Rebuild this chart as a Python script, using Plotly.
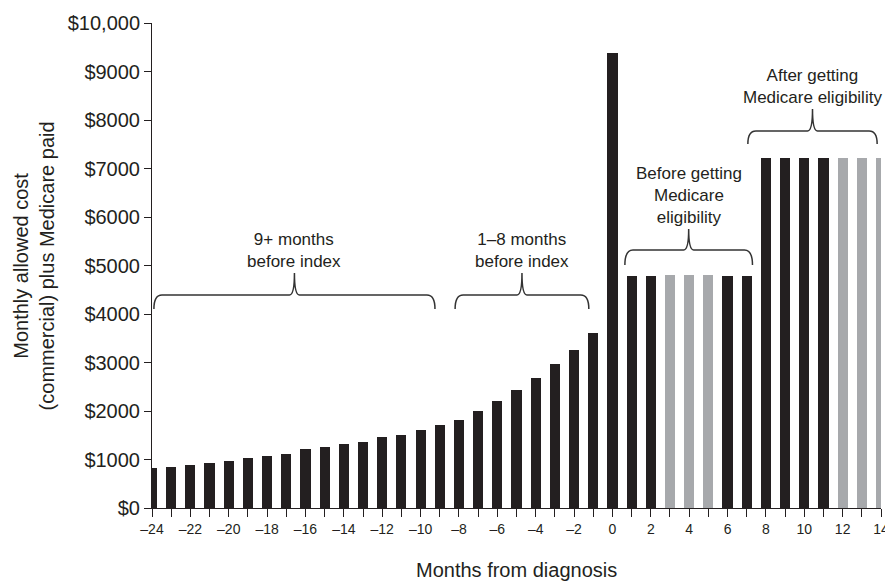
import plotly.graph_objects as go

# ---- data ----
months = list(range(-24, 15))
costs = [830, 850, 890, 930, 970, 1030, 1070, 1110, 1220, 1260, 1320, 1360,
         1460, 1510, 1610, 1710,
         1810, 2000, 2200, 2430, 2680, 2970, 3260, 3610,
         9390,
         4780, 4780, 4800, 4800, 4800, 4780, 4780,
         7210, 7210, 7210, 7210, 7210, 7210, 7210]
gray_months = [3, 4, 5, 12, 13, 14]
y_tick_values = list(range(0, 10001, 1000))
y_tick_labels = ["$0", "$1000", "$2000", "$3000", "$4000", "$5000", "$6000",
                 "$7000", "$8000", "$9000", "$10,000"]
x_tick_values = months
x_tick_labels = [("–%d" % abs(m) if m < 0 else str(m)) if m % 2 == 0 else "" for m in months]

group_labels = ["9+ months<br>before index", "1–8 months<br>before index",
                "Before getting<br>Medicare<br>eligibility",
                "After getting<br>Medicare eligibility"]
group_starts = [-23.9, -8.2, 0.65, 7.06]
group_ends = [-9.25, -1.23, 7.3, 13.8]
# brace levels (bottom of hook, horizontal, tip)
brace_bottom = [4104, 4104, 5010, 7506]
brace_mid = [4392, 4392, 5320, 7774]
brace_tip = [4845, 4845, 5752, 8227]

DARK = "#231f20"
GRAY = "#a7a9ac"
FONT = "Liberation Sans, Arial, Helvetica, sans-serif"

colors = [GRAY if m in gray_months else DARK for m in months]

fig = go.Figure()
fig.add_trace(go.Bar(x=months, y=costs, marker=dict(color=colors, line=dict(width=0)),
                     width=0.53, showlegend=False, hoverinfo="skip"))

shapes = []
annotations = []
r1 = 0.42
r2 = 0.26
for lab, x0, x1, yb, yh, yt in zip(group_labels, group_starts, group_ends,
                                   brace_bottom, brace_mid, brace_tip):
    xm = (x0 + x1) / 2
    path = (f"M {x0},{yb} Q {x0},{yh} {x0 + r1},{yh} L {xm - r2},{yh} "
            f"Q {xm},{yh} {xm},{yt} Q {xm},{yh} {xm + r2},{yh} "
            f"L {x1 - r1},{yh} Q {x1},{yh} {x1},{yb}")
    shapes.append(dict(type="path", path=path, xref="x", yref="y",
                       line=dict(color="#333333", width=1.5)))
    annotations.append(dict(x=xm, y=yt, xref="x", yref="y", text=lab,
                            showarrow=False, xanchor="center", yanchor="bottom",
                            font=dict(family=FONT, size=17, color=DARK)))

annotations.append(dict(x=-0.162, y=0.5, xref="paper", yref="paper",
                        text="Monthly allowed cost<br>(commercial) plus Medicare paid",
                        textangle=-90, showarrow=False, xanchor="center", yanchor="middle",
                        font=dict(family=FONT, size=20, color=DARK)))
annotations.append(dict(x=0.5, y=-0.127, xref="paper", yref="paper",
                        text="Months from diagnosis", showarrow=False,
                        xanchor="center", yanchor="middle",
                        font=dict(family=FONT, size=20, color=DARK)))

fig.update_layout(
    width=885, height=585,
    margin=dict(l=152, r=4, t=23, b=77, autoexpand=False),
    paper_bgcolor="white", plot_bgcolor="white",
    shapes=shapes, annotations=annotations,
    bargap=0,
    font=dict(family=FONT, color=DARK),
)
fig.update_xaxes(range=[-24, 14], tickvals=x_tick_values, ticktext=x_tick_labels,
                 ticks="outside", ticklen=8, tickwidth=1, tickcolor=DARK,
                 showline=True, linecolor=DARK, linewidth=1, showgrid=False,
                 zeroline=False, ticklabeloverflow="allow", automargin=False,
                 tickfont=dict(family=FONT, size=14, color=DARK))
fig.update_yaxes(range=[0, 10000], tickvals=y_tick_values, ticktext=y_tick_labels,
                 ticks="outside", ticklen=7, tickwidth=1, tickcolor=DARK,
                 showline=True, linecolor=DARK, linewidth=1, showgrid=False,
                 zeroline=False, automargin=False,
                 tickfont=dict(family=FONT, size=20, color=DARK))

fig.write_html("out.html", config={"displayModeBar": False},
               post_script="document.body.style.margin='0px';document.body.style.overflow='hidden';")
